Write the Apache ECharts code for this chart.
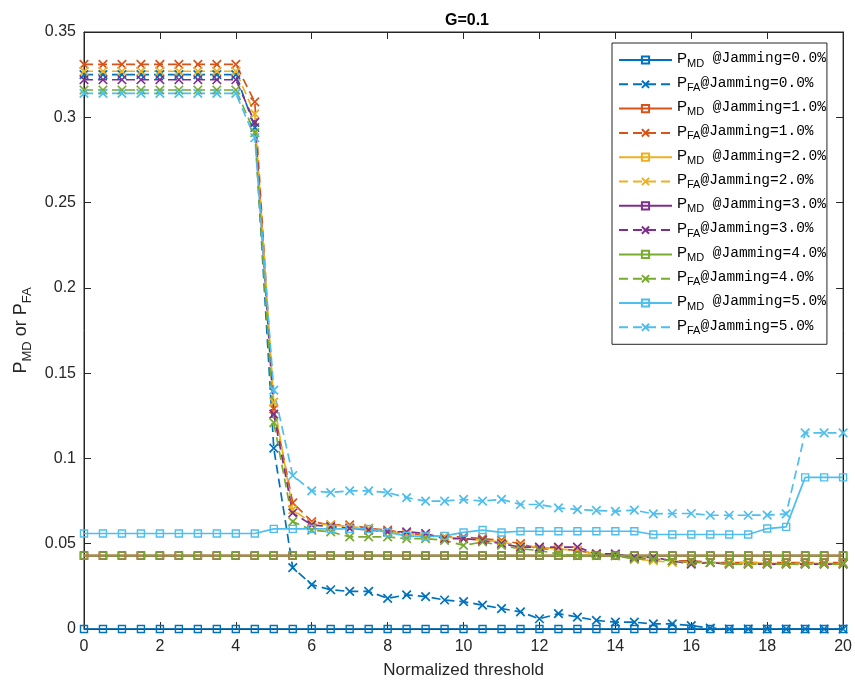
<!DOCTYPE html>
<html>
<head>
<meta charset="utf-8">
<script src="https://cdn.jsdelivr.net/npm/echarts@6/dist/echarts.min.js"></script>
<style>html,body{margin:0;padding:0;background:#fff}#c{width:855px;height:684px}</style>
</head>
<body>
<div id="c"></div>
<script>
// Normalized threshold: 0, 0.5, ..., 20
var thresholds = [0,0.5,1,1.5,2,2.5,3,3.5,4,4.5,5,5.5,6,6.5,7,7.5,8,8.5,9,9.5,10,10.5,11,11.5,12,12.5,13,13.5,14,14.5,15,15.5,16,16.5,17,17.5,18,18.5,19,19.5,20];
var jammingLevels = ['0.0','1.0','2.0','3.0','4.0','5.0'];
var xTicks = [0,2,4,6,8,10,12,14,16,18,20];
var yTicks = [0,0.05,0.1,0.15,0.2,0.25,0.3,0.35];

var pmd0 = [0,0,0,0,0,0,0,0,0,0,0,0,0,0,0,0,0,0,0,0,0,0,0,0,0,0,0,0,0,0,0,0,0,0,0,0,0,0,0,0,0];
var pfa0 = [0.325,0.325,0.325,0.325,0.325,0.325,0.325,0.325,0.325,0.294,0.106,0.036,0.026,0.023,0.022,0.022,0.018,0.020,0.019,0.017,0.016,0.014,0.012,0.010,0.006,0.009,0.007,0.005,0.004,0.004,0.003,0.003,0.002,0.0005,0,0,0,0,0,0,0];
var pmd1 = [0.043,0.043,0.043,0.043,0.043,0.043,0.043,0.043,0.043,0.043,0.043,0.043,0.043,0.043,0.043,0.043,0.043,0.043,0.043,0.043,0.043,0.043,0.043,0.043,0.043,0.043,0.043,0.043,0.043,0.043,0.043,0.043,0.043,0.043,0.043,0.043,0.043,0.043,0.043,0.043,0.043];
var pfa1 = [0.331,0.331,0.331,0.331,0.331,0.331,0.331,0.331,0.331,0.309,0.129,0.074,0.063,0.061,0.061,0.059,0.058,0.056,0.055,0.054,0.054,0.053,0.052,0.050,0.047,0.047,0.046,0.044,0.043,0.042,0.041,0.040,0.040,0.039,0.039,0.039,0.039,0.039,0.039,0.039,0.039];
var pmd2 = [0.043,0.043,0.043,0.043,0.043,0.043,0.043,0.043,0.043,0.043,0.043,0.043,0.043,0.043,0.043,0.043,0.043,0.043,0.043,0.043,0.043,0.043,0.043,0.043,0.043,0.043,0.043,0.043,0.043,0.043,0.043,0.043,0.043,0.043,0.043,0.043,0.043,0.043,0.043,0.043,0.043];
var pfa2 = [0.327,0.327,0.327,0.327,0.327,0.327,0.327,0.327,0.327,0.302,0.133,0.070,0.062,0.061,0.060,0.059,0.057,0.056,0.055,0.054,0.053,0.052,0.051,0.049,0.048,0.047,0.046,0.044,0.043,0.041,0.040,0.039,0.039,0.039,0.039,0.039,0.0385,0.0385,0.0385,0.0385,0.0385];
var pmd3 = [0.043,0.043,0.043,0.043,0.043,0.043,0.043,0.043,0.043,0.043,0.043,0.043,0.043,0.043,0.043,0.043,0.043,0.043,0.043,0.043,0.043,0.043,0.043,0.043,0.043,0.043,0.043,0.043,0.043,0.043,0.043,0.043,0.043,0.043,0.043,0.043,0.043,0.043,0.043,0.043,0.043];
var pfa3 = [0.322,0.322,0.322,0.322,0.322,0.322,0.322,0.322,0.322,0.297,0.126,0.068,0.061,0.060,0.059,0.058,0.057,0.057,0.056,0.053,0.053,0.052,0.050,0.048,0.048,0.048,0.048,0.044,0.044,0.042,0.042,0.040,0.038,0.039,0.038,0.038,0.038,0.038,0.038,0.038,0.038];
var pmd4 = [0.043,0.043,0.043,0.043,0.043,0.043,0.043,0.043,0.043,0.043,0.043,0.043,0.043,0.043,0.043,0.043,0.043,0.043,0.043,0.043,0.043,0.043,0.043,0.043,0.043,0.043,0.043,0.043,0.043,0.043,0.043,0.043,0.043,0.043,0.043,0.043,0.043,0.043,0.043,0.043,0.043];
var pfa4 = [0.316,0.316,0.316,0.316,0.316,0.316,0.316,0.316,0.316,0.291,0.121,0.063,0.058,0.057,0.054,0.054,0.054,0.053,0.053,0.052,0.049,0.051,0.049,0.047,0.046,0.044,0.043,0.043,0.043,0.041,0.041,0.040,0.039,0.039,0.038,0.038,0.038,0.038,0.038,0.038,0.038];
var pmd5 = [0.056,0.056,0.056,0.056,0.056,0.056,0.056,0.056,0.056,0.056,0.0587,0.0587,0.0587,0.0587,0.0587,0.0587,0.0566,0.0546,0.0542,0.0546,0.0566,0.058,0.0566,0.0573,0.0573,0.0573,0.0573,0.0573,0.0573,0.0573,0.0554,0.0554,0.0554,0.0554,0.0554,0.0554,0.0589,0.0599,0.0889,0.0889,0.0889];
var pfa5 = [0.314,0.314,0.314,0.314,0.314,0.314,0.314,0.314,0.314,0.288,0.140,0.090,0.081,0.080,0.081,0.081,0.080,0.077,0.075,0.075,0.076,0.075,0.076,0.073,0.073,0.071,0.070,0.0695,0.069,0.0697,0.0675,0.0677,0.0677,0.0667,0.0667,0.0667,0.0668,0.0675,0.115,0.115,0.115];

var pmdSets = [pmd0, pmd1, pmd2, pmd3, pmd4, pmd5];
var pfaSets = [pfa0, pfa1, pfa2, pfa3, pfa4, pfa5];
var colors = ['#0072BD','#D95319','#EDB120','#7E2F8E','#77AC30','#4DBEEE'];

var SQ = 'path://M0,0L10,0L10,10L0,10Z';
var XX = 'path://M0,0L10,10M10,0L0,10';

function pairs(arr){ return thresholds.map(function(x,i){ return [x, arr[i]]; }); }

var series = [];
var legendNames = [];
for (var k = 0; k < 6; k++) {
  var c = colors[k];
  var nmMD = 'MD|' + jammingLevels[k];
  var nmFA = 'FA|' + jammingLevels[k];
  legendNames.push(nmMD, nmFA);
  series.push({
    name: nmMD, type: 'line', data: pairs(pmdSets[k]),
    symbol: SQ, symbolSize: 7, showAllSymbol: true,
    lineStyle: {color: c, width: 1.7, type: 'solid'},
    itemStyle: {color: 'rgba(0,0,0,0)', borderColor: c, borderWidth: 1.4},
    emphasis: {disabled: true}, animation: false
  });
  series.push({
    name: nmFA, type: 'line', data: pairs(pfaSets[k]),
    symbol: XX, symbolSize: 8.5, showAllSymbol: true,
    lineStyle: {color: c, width: 1.7, type: [9,5]},
    itemStyle: {color: 'rgba(0,0,0,0)', borderColor: c, borderWidth: 1.7},
    emphasis: {disabled: true}, animation: false
  });
}

var axisCol = '#262626';
var font = 'Liberation Sans, Arial, Helvetica, sans-serif';

var chart = echarts.init(document.getElementById('c'), null, {renderer: 'canvas'});
chart.setOption({
  backgroundColor: '#fff',
  animation: false,
  title: {
    text: 'G=0.1', left: 462, top: 8, textAlign: 'center',
    textStyle: {fontFamily: font, fontWeight: 'bold', fontSize: 16, color: '#000'}
  },
  grid: {left: 84, right: 11, top: 32, bottom: 55, show: true, borderColor: axisCol, borderWidth: 1, backgroundColor: '#fff'},
  legend: {
    data: legendNames, orient: 'vertical', left: 612, top: 43,
    padding: [8, 1, 8, 6], itemGap: 6.3, itemWidth: 53, itemHeight: 9,
    backgroundColor: '#fff', borderColor: axisCol, borderWidth: 1, borderRadius: 0,
    selectedMode: false,
    formatter: function(name){
      var p = name.split('|');
      return '{p|P}{s|' + p[0] + '}{m|' + (p[0] === 'MD' ? ' ' : '') + '@Jamming=' + p[1] + '%}';
    },
    textStyle: {
      color: '#000', padding: [0,0,0,0],
      rich: {
        p: {fontFamily: font, fontSize: 15, lineHeight: 18, verticalAlign: 'top', color: '#000'},
        s: {fontFamily: font, fontSize: 11, lineHeight: 11, verticalAlign: 'bottom', color: '#000'},
        m: {fontFamily: 'Liberation Mono, DejaVu Sans Mono, monospace', fontSize: 14.5, lineHeight: 18, verticalAlign: 'top', color: '#000'}
      }
    }
  },
  xAxis: [{
    type: 'value', min: 0, max: 20, interval: 2, position: 'bottom',
    name: 'Normalized threshold', nameLocation: 'middle', nameGap: 33,
    nameTextStyle: {fontFamily: font, fontSize: 17, color: axisCol},
    axisLine: {show: true, onZero: false, lineStyle: {color: axisCol, width: 1}},
    axisTick: {show: true, inside: true, length: 7, lineStyle: {color: axisCol}},
    axisLabel: {fontFamily: font, fontSize: 16, color: axisCol, margin: 10},
    splitLine: {show: false}
  }, {
    type: 'value', min: 0, max: 20, interval: 2, position: 'top',
    axisLine: {show: true, onZero: false, lineStyle: {color: axisCol, width: 1}},
    axisTick: {show: true, inside: true, length: 7, lineStyle: {color: axisCol}},
    axisLabel: {show: false}, splitLine: {show: false}
  }],
  yAxis: [{
    type: 'value', min: 0, max: 0.35, interval: 0.05, position: 'left',
    name: '{p|P}{s|MD}{p| or P}{s|FA}', nameLocation: 'middle', nameGap: 50,
    nameTextStyle: {
      rich: {
        p: {fontFamily: font, fontSize: 18, lineHeight: 22, verticalAlign: 'top', color: axisCol},
        s: {fontFamily: font, fontSize: 13, lineHeight: 14, verticalAlign: 'bottom', color: axisCol}
      }
    },
    axisLine: {show: true, onZero: false, lineStyle: {color: axisCol, width: 1}},
    axisTick: {show: true, inside: true, length: 7, lineStyle: {color: axisCol}},
    axisLabel: {fontFamily: font, fontSize: 16, color: axisCol, margin: 8},
    splitLine: {show: false}
  }, {
    type: 'value', min: 0, max: 0.35, interval: 0.05, position: 'right',
    axisLine: {show: true, onZero: false, lineStyle: {color: axisCol, width: 1}},
    axisTick: {show: true, inside: true, length: 7, lineStyle: {color: axisCol}},
    axisLabel: {show: false}, splitLine: {show: false}
  }],
  series: series
});
</script>
</body>
</html>
